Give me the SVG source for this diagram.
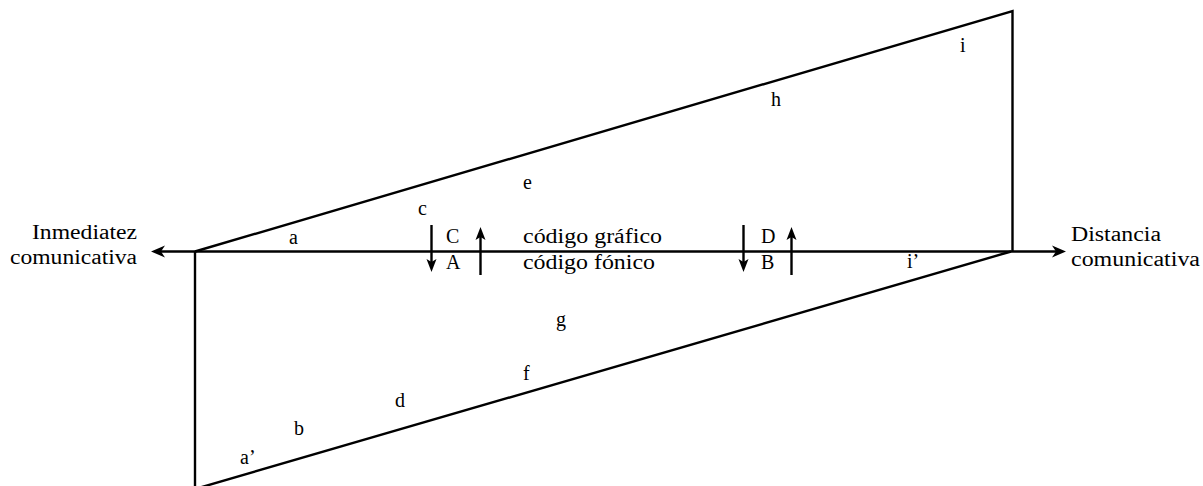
<svg xmlns="http://www.w3.org/2000/svg" width="1203" height="486" viewBox="0 0 1203 486">
<style>
.ln{fill:none;stroke:#000;stroke-width:2.4;stroke-linecap:butt}
text{font-size:20px;fill:#000}
</style>
<defs>
<marker id="ah" markerUnits="userSpaceOnUse" markerWidth="16" markerHeight="14" viewBox="0 0 16 14" refX="8" refY="7" orient="auto-start-reverse">
<path d="M1,1 L15,7 L1,13 L5,7 z" fill="#000"/>
</marker>
<marker id="sh" markerUnits="userSpaceOnUse" markerWidth="14" markerHeight="12" viewBox="0 0 14 12" refX="7" refY="6" orient="auto">
<path d="M0,1 L13,6 L0,11 L3,6 z" fill="#000"/>
</marker>
</defs>
<rect width="1203" height="486" fill="#fff"/>
<g id="connectors">
<line class="ln" x1="158" y1="251.5" x2="1059" y2="251.5" marker-start="url(#ah)" marker-end="url(#ah)"/>
<polyline class="ln" points="195,251.5 1012.5,11 1012.5,251.5"/>
<line class="ln" x1="1011" y1="251.5" x2="195" y2="489"/>
<line class="ln" x1="195" y1="251.5" x2="195" y2="490"/>
<line class="ln" x1="431.5" y1="225" x2="431.5" y2="266" marker-end="url(#sh)"/>
<line class="ln" x1="480.5" y1="275" x2="480.5" y2="233" marker-end="url(#sh)"/>
<line class="ln" x1="743.5" y1="225" x2="743.5" y2="266" marker-end="url(#sh)"/>
<line class="ln" x1="791.5" y1="275" x2="791.5" y2="233" marker-end="url(#sh)"/>
</g>
<g font-family="Liberation Serif">
<g id="inmediatez"><text x="32" y="239" textLength="105" lengthAdjust="spacingAndGlyphs">Inmediatez</text><text x="10" y="264" textLength="127" lengthAdjust="spacingAndGlyphs">comunicativa</text></g>
<g id="distancia"><text x="1071" y="241" textLength="90" lengthAdjust="spacingAndGlyphs">Distancia</text><text x="1071" y="266" textLength="129" lengthAdjust="spacingAndGlyphs">comunicativa</text></g>
<g id="grafico"><text x="523" y="243" textLength="139" lengthAdjust="spacingAndGlyphs">código gráfico</text></g>
<g id="fonico"><text x="523" y="269" textLength="132" lengthAdjust="spacingAndGlyphs">código fónico</text></g>
<g id="C"><text x="446" y="243">C</text></g>
<g id="A"><text x="446" y="269">A</text></g>
<g id="D"><text x="761" y="243">D</text></g>
<g id="B"><text x="761" y="269">B</text></g>
<g id="la"><text x="289" y="244">a</text></g>
<g id="lc"><text x="418" y="215">c</text></g>
<g id="le"><text x="523" y="189">e</text></g>
<g id="lh"><text x="771" y="106">h</text></g>
<g id="li"><text x="960" y="52">i</text></g>
<g id="lip"><text x="907" y="268">i’</text></g>
<g id="lg"><text x="556" y="326">g</text></g>
<g id="lf"><text x="523" y="380">f</text></g>
<g id="ld"><text x="395" y="407">d</text></g>
<g id="lb"><text x="294" y="435">b</text></g>
<g id="lap"><text x="240" y="464">a’</text></g>
</g>
</svg>
